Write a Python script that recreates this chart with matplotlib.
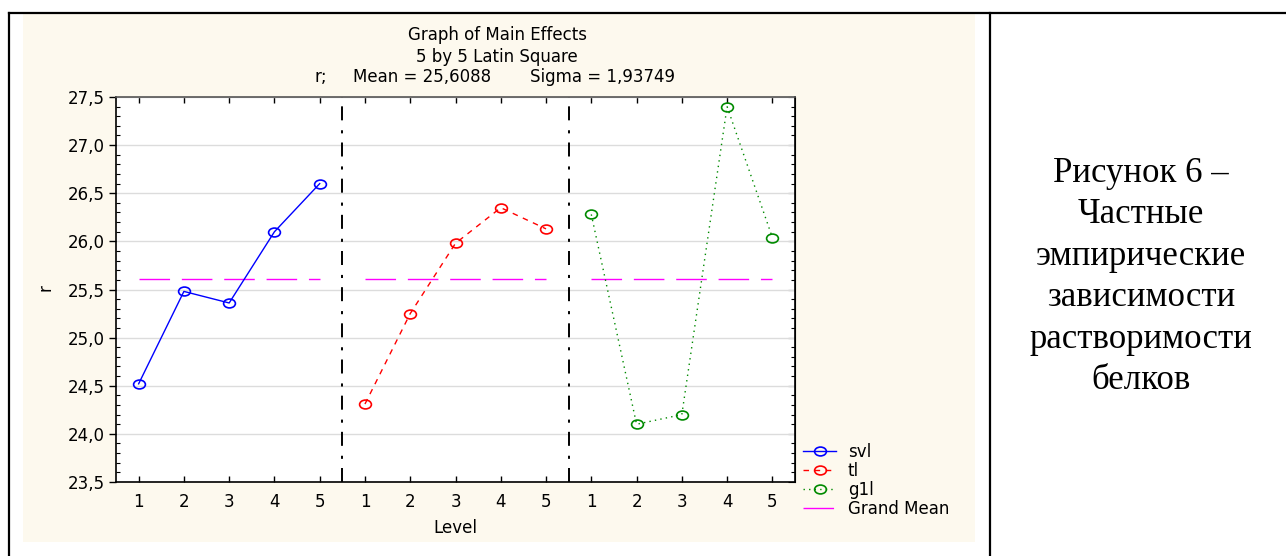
import numpy as np
import matplotlib
matplotlib.use("Agg")
import matplotlib.pyplot as plt
from matplotlib.lines import Line2D
from matplotlib.patches import Rectangle
from matplotlib.path import Path
from matplotlib.transforms import Affine2D

# Main effects (Latin square 5x5), response r
levels = [1, 2, 3, 4, 5]
factor_names = ["svl", "tl", "g1l"]
svl = [24.52, 25.48, 25.36, 26.10, 26.60]
tl = [24.31, 25.25, 25.98, 26.35, 26.13]
g1l = [26.28, 24.10, 24.20, 27.40, 26.04]
grand_mean = 25.6088
sigma = 1.93749
y_ticks = [23.5, 24.0, 24.5, 25.0, 25.5, 26.0, 26.5, 27.0, 27.5]
caption = ["Рисунок 6 –", "Частные", "эмпирические", "зависимости",
           "растворимости", "белков"]

W, H = 1286, 556
fig = plt.figure(figsize=(W / 100, H / 100), dpi=100)
fig.patch.set_facecolor("white")
plt.rcParams["font.family"] = ["DejaVu Sans"]
FS = 12


def fx(px):
    return px / W


def fy(py):
    return 1 - py / H


def comma(v, nd=1):
    return f"{v:.{nd}f}".replace(".", ",")


# cream panel behind the Statistica graph
fig.add_artist(Rectangle((fx(23), fy(542)), fx(975) - fx(23), fy(14) - fy(542),
                         transform=fig.transFigure, facecolor="#fdf9ee",
                         edgecolor="none", zorder=0))

# table cell borders
for xs, ys in [((fx(9), 1), (fy(13), fy(13))),
               ((fx(9), fx(9)), (0, fy(13))),
               ((fx(990), fx(990)), (0, fy(13)))]:
    fig.add_artist(Line2D(xs, ys, transform=fig.transFigure, color="black",
                          lw=1.6, zorder=5))

ax = fig.add_axes([fx(116), fy(482), fx(795) - fx(116), fy(97) - fy(482)])
ax.set_facecolor("white")

# slightly flattened open circle marker
ellipse = Path.unit_circle().transformed(Affine2D().scale(1.0, 0.75))

styles = {
    "svl": dict(color="#0000ff", linestyle="-"),
    "tl": dict(color="#ff0000", linestyle=(0, (4, 4))),
    "g1l": dict(color="#008a00", linestyle=(0, (1, 3))),
}
series = {"svl": svl, "tl": tl, "g1l": g1l}

handles = []
for i, name in enumerate(factor_names):
    x = np.array(levels) + 5 * i
    h, = ax.plot(x, series[name], marker=ellipse, markersize=8.5,
                 markerfacecolor="none", markeredgewidth=1.2, lw=1.0,
                 label=name, zorder=3, **styles[name])
    handles.append(h)
    gm, = ax.plot([x[0], x[-1]], [grand_mean, grand_mean], color="#ff00ff",
                  lw=1.0, dashes=(22, 8.5), label="Grand Mean", zorder=2)
    if i > 0:
        ax.axvline(5 * i + 0.5, color="black", lw=1.4,
                   dashes=(7.2, 4.7, 1.6, 5.1), zorder=2)
handles.append(gm)

ax.set_xlim(0.5, 15.5)
ax.set_ylim(23.5, 27.5)
ax.set_xticks(np.arange(1, 16))
ax.set_xticklabels([str(v) for v in levels] * 3, fontsize=FS)
ax.set_yticks(y_ticks)
ax.set_yticklabels([comma(v) for v in y_ticks], fontsize=FS)
ax.set_yticks(np.arange(23.5, 27.51, 0.1), minor=True)
ax.yaxis.grid(True, color="#dcdcdc", lw=1.0, zorder=0)
ax.set_axisbelow(True)

ax.tick_params(axis="x", which="major", direction="in", top=True,
               length=4, width=1, pad=8)
ax.tick_params(axis="y", which="major", direction="out", length=5,
               width=1, pad=3)
ax.tick_params(axis="y", which="minor", direction="in", length=3, width=0.8)

right = ax.secondary_yaxis("right")
right.set_yticks(y_ticks)
right.set_yticks(np.arange(23.5, 27.51, 0.1), minor=True)
right.tick_params(which="major", direction="in", length=5, labelright=False)
right.tick_params(which="minor", direction="in", length=3, width=0.8)
right.set_yticklabels([])

for sp in ax.spines.values():
    sp.set_linewidth(1.2)
ax.spines["top"].set_color("#555555")

# titles
fig.text(fx(498), fy(40), "Graph of Main Effects", ha="center", va="baseline",
         fontsize=FS)
fig.text(fx(497), fy(62), "5 by 5 Latin Square", ha="center", va="baseline",
         fontsize=FS)
fig.text(fx(314), fy(82), "r;", ha="left", va="baseline", fontsize=FS)
fig.text(fx(353), fy(82), f"Mean = {comma(grand_mean, 4)}", ha="left",
         va="baseline", fontsize=FS)
fig.text(fx(530), fy(82), f"Sigma = {comma(sigma, 5)}", ha="left",
         va="baseline", fontsize=FS)

fig.text(fx(45), fy(288), "r", rotation=90, ha="center", va="center",
         fontsize=FS)
fig.text(fx(455), fy(528), "Level", ha="center", va="center", fontsize=FS)

fig.legend(handles=handles, labels=factor_names + ["Grand Mean"],
           loc="upper left", bbox_to_anchor=(fx(803), fy(443)),
           frameon=False, fontsize=FS, handlelength=2.0, handletextpad=0.7,
           labelspacing=0.05, borderaxespad=0, borderpad=0, numpoints=1)

fig.text(fx(1141), fy(277), "\n".join(caption), ha="center", va="center",
         fontsize=25, family=["Liberation Serif", "DejaVu Serif"],
         linespacing=1.34)

fig.savefig("out.png", dpi=100)
